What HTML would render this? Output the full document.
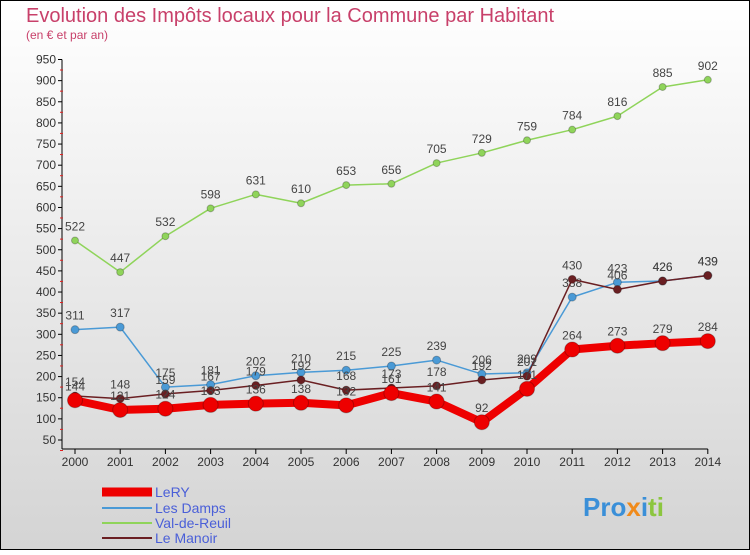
<!DOCTYPE html>
<html><head><meta charset="utf-8"><style>
body{margin:0;background:#fff}
svg text{font-family:"Liberation Sans",sans-serif}
</style></head><body>
<svg width="750" height="550" xmlns="http://www.w3.org/2000/svg">
<defs><linearGradient id="bg" x1="0" y1="0" x2="0" y2="1"><stop offset="0" stop-color="#ffffff"/><stop offset="1" stop-color="#d4d4d4"/></linearGradient></defs>
<rect x="0.5" y="0.5" width="749" height="549" fill="url(#bg)" stroke="#000"/>
<text x="26" y="22" font-size="20" fill="#c8406a">Evolution des Impôts locaux pour la Commune par Habitant</text>
<text x="26" y="39" font-size="12" fill="#c8406a">(en € et par an)</text>
<g id="axes"></g>
<g id="series"></g>
<g>
<line x1="102" y1="492" x2="152" y2="492" stroke="#ee0000" stroke-width="9"/>
<text x="155" y="497" font-size="14" fill="#4a5fd8">LeRY</text>
<line x1="102" y1="508" x2="152" y2="508" stroke="#4a9ad6" stroke-width="2"/>
<text x="155" y="513" font-size="14" fill="#4a5fd8">Les Damps</text>
<line x1="102" y1="523" x2="152" y2="523" stroke="#8fd45a" stroke-width="2"/>
<text x="155" y="528" font-size="14" fill="#4a5fd8">Val-de-Reuil</text>
<line x1="102" y1="538" x2="152" y2="538" stroke="#6a1f22" stroke-width="2"/>
<text x="155" y="543" font-size="14" fill="#4a5fd8">Le Manoir</text>
</g>
<text x="583" y="516" font-size="26" font-weight="bold"><tspan fill="#3a8fd8">Pro</tspan><tspan fill="#f08a1a">x</tspan><tspan fill="#3a8fd8">i</tspan><tspan fill="#8cc63f">ti</tspan></text>
</svg>
<script>
const years=[2000,2001,2002,2003,2004,2005,2006,2007,2008,2009,2010,2011,2012,2013,2014];
const yTicks=[50,100,150,200,250,300,350,400,450,500,550,600,650,700,750,800,850,900,950];
const lery=[144,121,124,133,136,138,132,161,141,92,171,264,273,279,284];
const lesDamps=[311,317,175,181,202,210,215,225,239,206,209,388,423,426,439];
const valDeReuil=[522,447,532,598,631,610,653,656,705,729,759,784,816,885,902];
const leManoir=[154,148,159,167,179,192,168,173,178,192,201,430,406,426,439];
const NS="http://www.w3.org/2000/svg";
const xS=i=>75+i*45.2;
const yS=v=>440-(v-50)*(380.5/900);
function mk(tag,attrs,parent,txt){const e=document.createElementNS(NS,tag);for(const k in attrs)e.setAttribute(k,attrs[k]);if(txt!==undefined)e.textContent=txt;parent.appendChild(e);return e;}
const ax=document.getElementById('axes');
const yl=mk('line',{x1:62,y1:yS(950),x2:62,y2:449,stroke:'#000'},ax);


const xl=mk('line',{x1:62,y1:449,x2:xS(14),y2:449,stroke:'#000'},ax);


yTicks.forEach(v=>{const y=yS(v);
mk('line',{x1:58,y1:y,x2:62,y2:y,stroke:'#000'},ax);
mk('line',{x1:60,y1:y+10.5,x2:63,y2:y+10.5,stroke:'#e02020'},ax);
const t=mk('text',{x:56,y:y+4,'font-size':12,'text-anchor':'end',fill:'#333'},ax,v);

});
years.forEach((yr,i)=>{const x=xS(i);
mk('line',{x1:x,y1:449,x2:x,y2:454,stroke:'#000'},ax);
const t=mk('text',{x:x,y:466,'font-size':12,'text-anchor':'middle',fill:'#333'},ax,yr);

});
const sg=document.getElementById('series');
function draw(vals,color,w,r,name){
const g=mk('g',{},sg);


const pl=mk('polyline',{points:vals.map((v,i)=>xS(i)+','+yS(v)).join(' '),fill:'none',stroke:color,'stroke-width':w,'stroke-linejoin':'round'},g);


vals.forEach((v,i)=>{
const c=mk('circle',{cx:xS(i),cy:yS(v),r:r,fill:color,stroke:'rgba(0,0,0,0.25)'},g);


const t=mk('text',{x:xS(i),y:yS(v)-10,'font-size':12,'text-anchor':'middle',fill:'#444'},g,v);

});}
draw(valDeReuil,'#8fd45a',1.5,3.5,'val-de-reuil');
draw(lesDamps,'#4a9ad6',1.5,4,'les-damps');
draw(leManoir,'#6a1f22',1.5,4,'le-manoir');
draw(lery,'#ee0000',8,7.5,'lery');
</script>
</body></html>
